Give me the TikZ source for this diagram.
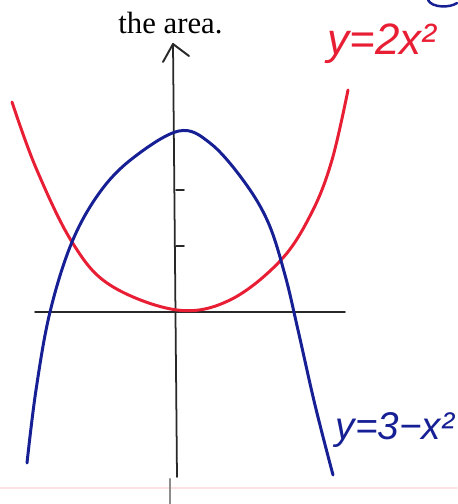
\documentclass[tikz,border=0pt]{standalone}
\usepackage{fontspec}
\setmainfont{Liberation Serif}
\newfontfamily\handfont{Liberation Sans}
\usepackage{tikz}
\usetikzlibrary{calc}
\definecolor{hwred}{RGB}{232,30,52}
\definecolor{hwblue}{RGB}{22,32,148}
\definecolor{hwaxis}{RGB}{40,40,40}

\begin{document}
\begin{tikzpicture}[x=.02cm,y=-.02cm,line cap=round,line join=round]
        \useasboundingbox (0,0) rectangle (457,504);
        % page edge and stray marks
        \draw[red!12,line width=.8pt] (0,488) -- (457,488);
        \draw[black!45,line width=1.2pt] (170,479) -- (170,504);
        \draw[hwblue,line width=1.4pt] (428,0) .. controls (432,8) and (450,8) .. (457,3);
        % text above the graph
        \node[anchor=base west,inner sep=0pt,font=\fontsize{17.5}{20}\selectfont] (title) at (118,33) {the area.};
        % axes
        \coordinate (ytop) at (173,44);
        \coordinate (ybot) at (177,477);
        \draw[hwaxis,line width=1pt] (ybot) -- (ytop);
        \draw[hwaxis,line width=1.1pt] (163,62) -- (ytop) -- (189,56);
        \coordinate (xleft) at (35,312);
        \coordinate (xright) at (345,312);
        \draw[hwaxis,line width=1pt] (xleft) -- (xright);
        \draw[hwaxis,line width=1pt] (176,190) -- (184,190);
        \draw[hwaxis,line width=1pt] (176,246) -- (184,246);
        % y = 2x^2
        \draw[hwred,line width=1.7pt] plot[smooth,tension=.6] coordinates {
          (12,102) (36,168) (72,242) (110,285) (177,310)
          (230,300) (281,260) (312,212) (332,160) (348,90)};
        % y = 3 - x^2
        \draw[hwblue,line width=1.7pt] plot[smooth,tension=.6] coordinates {
          (27,463) (36,390) (50,312) (72,242) (100,192) (133,158) (179,131)
          (210,143) (243,180) (268,222) (285,275) (298,330) (315,405) (333,475)};
        \node[hwred,font=\handfont\itshape\fontsize{25}{25}\selectfont] (redlabel) at (382,44) {y=2x²};
        \node[hwblue,font=\handfont\itshape\fontsize{22}{22}\selectfont] (bluelabel) at (395,430) {y=3−x²};
      \end{tikzpicture}
\end{document}
